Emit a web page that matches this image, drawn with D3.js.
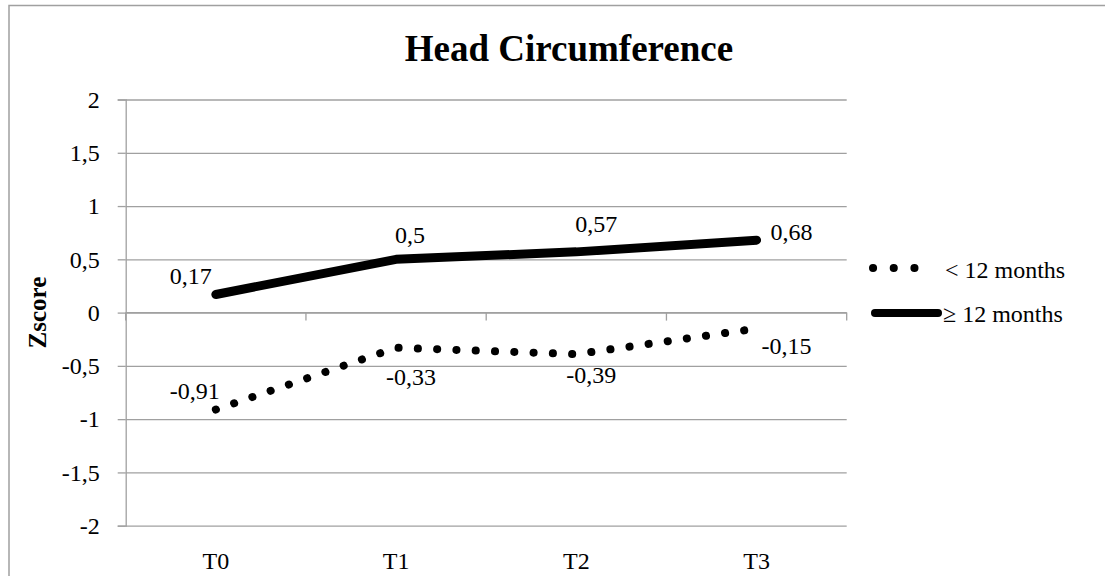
<!DOCTYPE html>
<html>
<head>
<meta charset="utf-8">
<script src="https://cdn.jsdelivr.net/npm/d3@7"></script>
<style>
  body { margin: 0; background: #fff; }
  text { font-family: "Liberation Serif", "Times New Roman", serif; fill: #000; }
</style>
</head>
<body>
<script>
// data
var categories = ["T0", "T1", "T2", "T3"];
var under12 = [-0.91, -0.33, -0.39, -0.15];
var over12 = [0.17, 0.5, 0.57, 0.68];
var yTicks = [-2, -1.5, -1, -0.5, 0, 0.5, 1, 1.5, 2];
var seriesNames = ["< 12 months", "\u2265 12 months"];

// label placement (dx, dy from the point, anchor)
var underLabelPos = [[4, -11, "end"], [-10, 37, "start"], [-10, 29, "start"], [5, 25, "start"]];
var overLabelPos = [[-4, -10, "end"], [-1, -16, "start"], [-1, -20, "start"], [14, 0, "start"]];

var W = 1105, H = 576;
var margin = {top: 99.5, left: 125.7, right: W - 846.7, bottom: H - 525.7};
var width = W - margin.left - margin.right,
    height = H - margin.top - margin.bottom;
var grey = "#a0a0a0";

var svg = d3.select("body").append("svg")
    .attr("width", W)
    .attr("height", H);

// outer chart border (cropped at right and bottom)
svg.append("rect")
    .attr("x", 9).attr("y", 5.5)
    .attr("width", W + 20).attr("height", H + 20)
    .attr("fill", "none")
    .attr("stroke", grey)
    .attr("stroke-width", 1.5);

svg.append("text")
    .attr("x", 569).attr("y", 61)
    .attr("text-anchor", "middle")
    .style("font-size", "37px")
    .style("font-weight", "bold")
    .text("Head Circumference");

var g = svg.append("g")
    .attr("transform", "translate(" + margin.left + "," + margin.top + ")");

var x = d3.scaleBand().domain(categories).range([0, width]).padding(0);
var y = d3.scaleLinear().domain([-2, 2]).range([height, 0]);
var cx = function (c) { return x(c) + x.bandwidth() / 2; };

// gridlines
g.append("g")
    .call(d3.axisLeft(y).tickValues(yTicks).tickSize(-width).tickFormat(""))
    .call(function (s) { s.select(".domain").remove(); })
    .selectAll("line").attr("stroke", grey).attr("stroke-width", 1.3);

// y axis
var yAxis = g.append("g")
    .call(d3.axisLeft(y).tickValues(yTicks).tickSize(8).tickPadding(18)
        .tickFormat(function (d) { return String(d).replace(".", ","); }));
yAxis.select(".domain").attr("stroke", grey).attr("stroke-width", 1.3);
yAxis.selectAll("line").attr("stroke", grey).attr("stroke-width", 1.3);
yAxis.selectAll("text").style("font-size", "24px").attr("font-family", null);

// x axis line at zero with ticks at category boundaries
var xAxis = g.append("g").attr("transform", "translate(0," + y(0) + ")");
xAxis.append("line")
    .attr("x1", 0).attr("x2", width)
    .attr("stroke", grey).attr("stroke-width", 1.3);
xAxis.selectAll(".bt")
    .data(d3.range(categories.length + 1))
    .enter().append("line")
    .attr("x1", function (i) { return i * x.step(); })
    .attr("x2", function (i) { return i * x.step(); })
    .attr("y1", 0).attr("y2", 8)
    .attr("stroke", grey).attr("stroke-width", 1.3);

// category labels at bottom
var xLab = g.append("g")
    .attr("transform", "translate(0," + height + ")")
    .call(d3.axisBottom(x).tickSize(0).tickPadding(26));
xLab.select(".domain").remove();
xLab.selectAll("text").style("font-size", "24px").attr("font-family", null);

var line = d3.line()
    .x(function (d, i) { return cx(categories[i]); })
    .y(function (d) { return y(d); });

// < 12 months: dotted
g.append("path")
    .datum(under12)
    .attr("d", line)
    .attr("fill", "none")
    .attr("stroke", "#000")
    .attr("stroke-width", 8)
    .attr("stroke-linecap", "round")
    .attr("stroke-dasharray", "0.1 19.2");

// >= 12 months: solid heavy line
g.append("path")
    .datum(over12)
    .attr("d", line)
    .attr("fill", "none")
    .attr("stroke", "#000")
    .attr("stroke-width", 9)
    .attr("stroke-linecap", "round")
    .attr("stroke-linejoin", "round");

function fmt(v) { return String(v).replace(".", ","); }

function addLabels(values, pos) {
    g.append("g").selectAll("text")
        .data(values)
        .enter().append("text")
        .attr("x", function (d, i) { return cx(categories[i]) + pos[i][0]; })
        .attr("y", function (d, i) { return y(d) + pos[i][1]; })
        .attr("text-anchor", function (d, i) { return pos[i][2]; })
        .style("font-size", "24px")
        .text(fmt);
}
addLabels(under12, underLabelPos);
addLabels(over12, overLabelPos);

// y axis title
svg.append("text")
    .attr("transform", "translate(46," + (margin.top + y(0)) + ") rotate(-90)")
    .attr("text-anchor", "middle")
    .style("font-size", "25px")
    .style("font-weight", "bold")
    .text("Zscore");

// legend
var legend = svg.append("g");
legend.append("line")
    .attr("x1", 873).attr("x2", 935).attr("y1", 268).attr("y2", 268)
    .attr("stroke", "#000").attr("stroke-width", 8)
    .attr("stroke-linecap", "round")
    .attr("stroke-dasharray", "0.1 20.6");
legend.append("text")
    .attr("x", 945).attr("y", 278)
    .style("font-size", "24px")
    .text(seriesNames[0]);
legend.append("line")
    .attr("x1", 875).attr("x2", 938).attr("y1", 313).attr("y2", 313)
    .attr("stroke", "#000").attr("stroke-width", 8)
    .attr("stroke-linecap", "round");
legend.append("text")
    .attr("x", 943).attr("y", 322)
    .style("font-size", "24px")
    .text(seriesNames[1]);
</script>
</body>
</html>
